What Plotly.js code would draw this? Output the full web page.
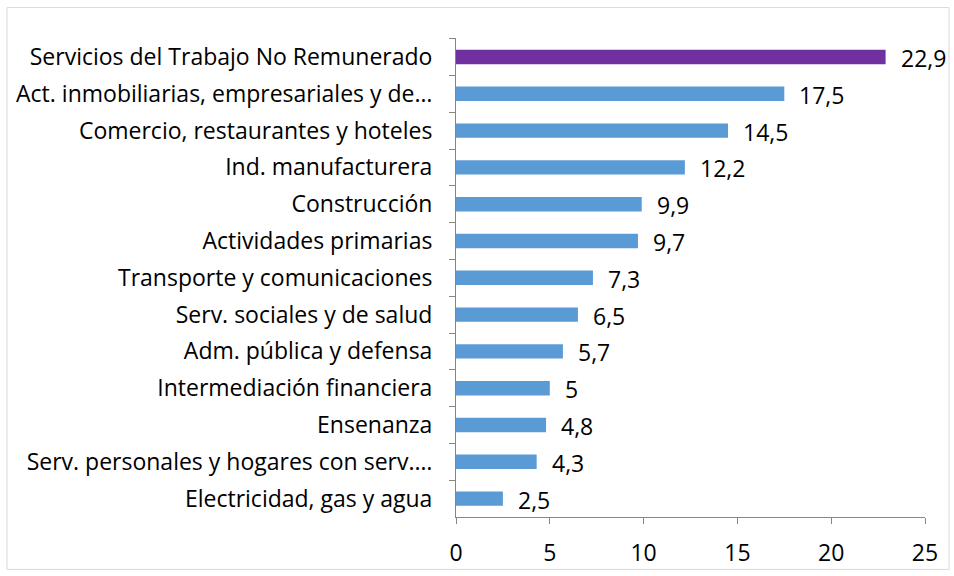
<!DOCTYPE html>
<html><head><meta charset="utf-8">
<script src="https://cdn.plot.ly/plotly-3.0.1.min.js"></script>
<style>body{margin:0;background:#fff}#chart{width:954px;height:576px}</style>
</head><body><div id="chart"></div>
<script>
const categories = [
  "Servicios del Trabajo No Remunerado",
  "Act. inmobiliarias, empresariales y de…",
  "Comercio, restaurantes y hoteles",
  "Ind. manufacturera",
  "Construcción",
  "Actividades primarias",
  "Transporte y comunicaciones",
  "Serv. sociales y de salud",
  "Adm. pública y defensa",
  "Intermediación financiera",
  "Ensenanza",
  "Serv. personales y hogares con serv.…",
  "Electricidad, gas y agua"
];
const values = [22.9, 17.5, 14.5, 12.2, 9.9, 9.7, 7.3, 6.5, 5.7, 5, 4.8, 4.3, 2.5];
const barColors = ["#7030A0","#5B9BD5","#5B9BD5","#5B9BD5","#5B9BD5","#5B9BD5","#5B9BD5","#5B9BD5","#5B9BD5","#5B9BD5","#5B9BD5","#5B9BD5","#5B9BD5"];
const xTicks = [0, 5, 10, 15, 20, 25];

const fontFam = "'Open Sans', Lato, sans-serif";
const trace = {
  type: "bar", orientation: "h",
  x: values, y: categories,
  marker: {color: barColors, line: {width: 0}},
  hoverinfo: "skip"
};
const annotations = values.map((v, i) => ({
  x: v, y: categories[i], xref: "x", yref: "y",
  text: String(v).replace(".", ","), showarrow: false,
  xanchor: "left", yanchor: "middle", xshift: 13, yshift: -1,
  font: {family: fontFam, size: 23, color: "#000"}
}));
const layout = {
  width: 954, height: 576,
  margin: {l: 456, r: 29, t: 37.5, b: 58.5},
  paper_bgcolor: "#fff", plot_bgcolor: "#fff",
  showlegend: false, bargap: 0.61,
  separators: ",.",
  font: {family: fontFam, size: 23, color: "#000"},
  xaxis: {
    range: [0, 25], tickvals: xTicks, showgrid: false, zeroline: false,
    showline: true, linecolor: "#868686", linewidth: 1,
    ticks: "outside", ticklen: 6, tickcolor: "#868686",
    tickfont: {family: fontFam, size: 23, color: "#000"}, ticklabelstandoff: 9
  },
  yaxis: {
    autorange: "reversed", type: "category", showgrid: false, zeroline: false,
    showline: true, linecolor: "#868686", linewidth: 1,
    ticks: "outside", ticklen: 6, tickcolor: "#868686", tickson: "boundaries",
    tickfont: {family: fontFam, size: 23, color: "#000"}, ticklabelstandoff: 18
  },
  annotations: annotations,
  shapes: [{type: "rect", xref: "paper", yref: "paper",
    x0: (7 - 456) / 469, x1: (949 - 456) / 469, y0: -(570 - 517.5) / 480, y1: 1 + (37.5 - 7) / 480,
    line: {color: "#D9D9D9", width: 1}, fillcolor: "rgba(0,0,0,0)", layer: "below"}]
};
Plotly.newPlot("chart", [trace], layout, {displayModeBar: false, staticPlot: true});
</script></body></html>
